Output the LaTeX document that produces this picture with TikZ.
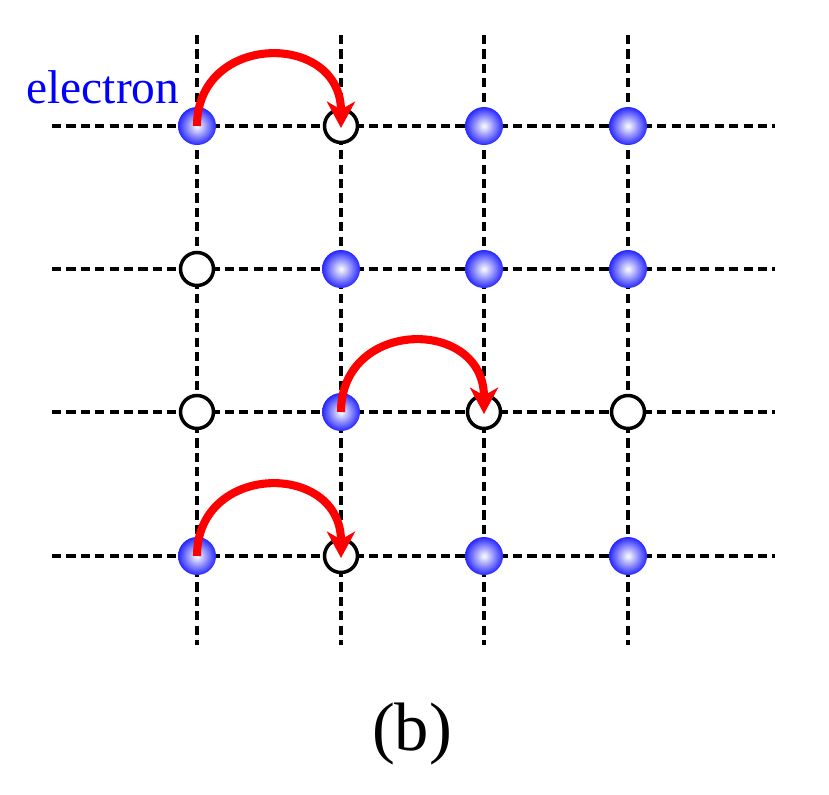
\documentclass[tikz,border=0pt]{standalone}
\usepackage{fontspec}
\setmainfont{Liberation Serif}
\usetikzlibrary{arrows.meta}
\begin{document}
\begin{tikzpicture}[x=0.02cm,y=-0.02cm,
  gridline/.style={line width=2pt,dash pattern=on 5.2pt off 3pt},
  electron/.style={circle,minimum size=38*0.02cm,inner sep=0pt,draw=none,inner color=white,outer color=blue!85!white},
  hole/.style={circle,minimum size=33*0.02cm,inner sep=0pt,draw=black,line width=2pt,fill=white},
  hop/.style={draw=red,line width=4.6pt,-{Stealth[length=15pt,width=16pt,inset=4.5pt]}}]
\useasboundingbox (0,0) rectangle (829,795);
% grid coordinates
\foreach \c/\x in {1/197,2/341,3/484,4/628}{
  \foreach \r/\y in {1/126,2/269,3/412,4/556}{
    \coordinate (g\r\c) at (\x,\y);
  }
  \coordinate (top\c) at (\x,35);
  \coordinate (bot\c) at (\x,645);
  \draw[gridline] (top\c) -- (bot\c);
}
\foreach \r/\y in {1/126,2/269,3/412,4/556}{
  \coordinate (left\r) at (52,\y);
  \coordinate (right\r) at (775,\y);
  \draw[gridline] (left\r) -- (right\r);
}
% sites
\node[electron] (n11) at (g11) {};
\node[hole] (n12) at (g12) {};
\node[electron] (n13) at (g13) {};
\node[electron] (n14) at (g14) {};
\node[hole] (n21) at (g21) {};
\node[electron] (n22) at (g22) {};
\node[electron] (n23) at (g23) {};
\node[electron] (n24) at (g24) {};
\node[hole] (n31) at (g31) {};
\node[electron] (n32) at (g32) {};
\node[hole] (n33) at (g33) {};
\node[hole] (n34) at (g34) {};
\node[electron] (n41) at (g41) {};
\node[hole] (n42) at (g42) {};
\node[electron] (n43) at (g43) {};
\node[electron] (n44) at (g44) {};
% hops
\draw[hop] (n11.center) .. controls +(0,-94) and +(0,-97) .. ([yshift=-2*0.02cm]n12.center);
\draw[hop] (n32.center) .. controls +(0,-94) and +(0,-97) .. ([yshift=-2*0.02cm]n33.center);
\draw[hop] (n41.center) .. controls +(0,-94) and +(0,-97) .. ([yshift=-2*0.02cm]n42.center);
% labels
\node[anchor=base,text=blue,font=\fontsize{27}{30}\selectfont,inner sep=0pt] (lab) at (103,103) {electron};
\node[anchor=base,font=\fontsize{39}{44}\selectfont,inner sep=0pt] (cap) at (412,750) {(b)};
\end{tikzpicture}
\end{document}
